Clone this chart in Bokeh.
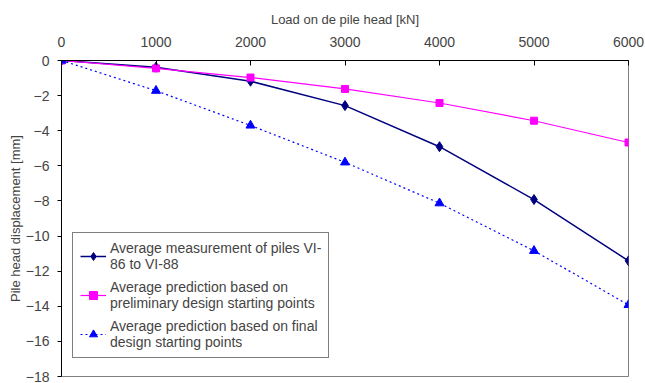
from bokeh.plotting import figure
from bokeh.models import LinearAxis, Range1d, FixedTicker, Legend, LegendItem
from bokeh.embed import file_html
from bokeh.resources import INLINE

loads = [0, 1000, 2000, 3000, 4000, 5000, 6000]
measured = [0, -0.38, -1.18, -2.57, -4.91, -7.92, -11.41]
prelim = [0, -0.45, -0.97, -1.62, -2.42, -3.43, -4.67]
final = [0, -1.72, -3.7, -5.8, -8.13, -10.84, -13.92]

x_ticks = [0, 1000, 2000, 3000, 4000, 5000, 6000]
y_ticks = [0, -2, -4, -6, -8, -10, -12, -14, -16, -18]

FONT = "Liberation Sans"

p = figure(width=645, height=383, output_backend="svg", toolbar_location=None,
           x_range=Range1d(0, 6000), y_range=Range1d(-18, 0),
           x_axis_location=None, y_axis_location=None,
           min_border_left=61, min_border_right=17, min_border_top=60, min_border_bottom=7)
p.grid.visible = False
p.outline_line_color = "#808080"
p.outline_line_width = 1
p.background_fill_color = "white"

xa = LinearAxis(axis_label="Load on de pile head [kN]", ticker=FixedTicker(ticks=x_ticks))
xa.major_label_text_font = FONT
xa.major_label_text_font_size = "14px"
xa.axis_label_text_font = FONT
xa.axis_label_text_font_size = "13px"
xa.axis_label_text_font_style = "normal"
xa.major_tick_in = 5
xa.major_tick_out = 0
xa.minor_tick_line_color = None
xa.axis_line_color = "black"
xa.major_label_standoff = 14
xa.axis_label_standoff = 7
p.add_layout(xa, "above")

ya = LinearAxis(axis_label="Pile head displacement [mm]", ticker=FixedTicker(ticks=y_ticks))
ya.major_label_text_font = FONT
ya.major_label_text_font_size = "14px"
ya.axis_label_text_font = FONT
ya.axis_label_text_font_size = "13px"
ya.axis_label_text_font_style = "normal"
ya.major_tick_in = 0
ya.major_tick_out = 4
ya.minor_tick_line_color = None
ya.axis_line_color = "black"
ya.major_label_standoff = 8
ya.axis_label_standoff = 0
p.add_layout(ya, "left")

navy = "#000080"
mag = "#FF00FF"
blue = "#0000FF"

r1l = p.line(loads, measured, line_color=navy, line_width=1.5)
r1m = p.scatter(loads, measured, marker="diamond", size=10, fill_color=navy, line_color=navy)
r2l = p.line(loads, prelim, line_color=mag, line_width=1.2)
r2m = p.scatter(loads, prelim, marker="square", size=7, fill_color=mag, line_color=mag)
r3l = p.line(loads, final, line_color=blue, line_width=1.2, line_dash="2 3")
r3m = p.scatter(loads, final, marker="triangle", size=9, fill_color=blue, line_color=blue)

legend = Legend(items=[
    LegendItem(label="Average measurement of piles VI-\n86 to VI-88", renderers=[r1l, r1m]),
    LegendItem(label="Average prediction based on\npreliminary design starting points", renderers=[r2l, r2m]),
    LegendItem(label="Average prediction based on final\ndesign starting points", renderers=[r3l, r3m]),
], location=(11, 18))
legend.label_text_font = FONT
legend.label_text_font_size = "14px"
legend.border_line_color = "black"
legend.border_line_width = 1
legend.glyph_width = 26
legend.label_standoff = 4
legend.spacing = 7
legend.padding = 7
legend.margin = 0
legend.label_height = 30
p.add_layout(legend, "center")

open("out.html", "w").write(file_html(p, INLINE))
